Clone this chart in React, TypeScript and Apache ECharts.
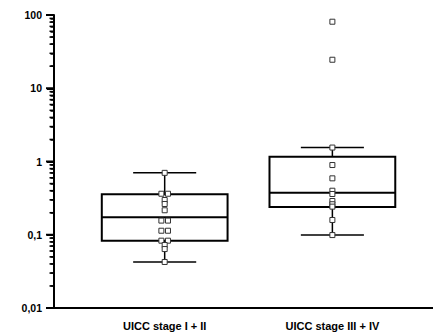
import React, { useEffect, useRef } from "react";
import * as echarts from "echarts";

const categories = ["UICC stage I + II", "UICC stage III + IV"];
const categoryX = [1, 2];

// [min, Q1, median, Q3, max]
const boxStage12 = [0.0425, 0.083, 0.173, 0.356, 0.7];
const boxStage34 = [0.099, 0.239, 0.375, 1.16, 1.55];

const pointsStage12 = [0.7, 0.363, 0.363, 0.298, 0.263, 0.216, 0.156, 0.156, 0.1135, 0.1135, 0.083, 0.083, 0.0724, 0.0638, 0.0425];
const pointsStage34 = [81, 24.5, 1.55, 0.895, 0.589, 0.399, 0.36, 0.289, 0.261, 0.242, 0.159, 0.099];

const yTickLabels = ["0,01", "0,1", "1", "10", "100"];
const majorTickValues = [0.01, 0.1, 1, 10, 100];
const minorTickMultipliers = [2, 3, 4, 5, 6, 7, 8, 9];

const X_MIN = 0.34;
const X_MAX = 2.6;
const BOX_HALF = 0.375;
const CAP_HALF = 0.188;
const PAIR_OFFSET = 3.3;
const FONT = "'Liberation Sans', Arial, sans-serif";

function buildPoints(x: number, values: number[]) {
  const counts: Record<string, number> = {};
  values.forEach((v) => (counts[String(v)] = (counts[String(v)] || 0) + 1));
  const seen: Record<string, number> = {};
  return values.map((v) => {
    const k = String(v);
    const idx = seen[k] || 0;
    seen[k] = idx + 1;
    const off = counts[k] > 1 ? (idx === 0 ? -PAIR_OFFSET : PAIR_OFFSET) : 0;
    return { value: [x, v], symbolOffset: [off, 0] };
  });
}

function tickMarks(values: number[], len: number, width: number) {
  return {
    type: "scatter",
    data: values.map((v) => [X_MIN, v]),
    clip: false,
    silent: true,
    symbol: "rect",
    symbolSize: [len, width],
    symbolOffset: [-len / 2 - 1, 0],
    itemStyle: { color: "#000", opacity: 1 },
    z: 4,
  };
}

export default function App() {
  const ref = useRef<HTMLDivElement>(null);
  useEffect(() => {
    if (!ref.current) return;
    const chart = echarts.init(ref.current, null, { renderer: "svg" });
    const black = "#000";
    const minorValues: number[] = [];
    majorTickValues.slice(0, -1).forEach((d) =>
      minorTickMultipliers.forEach((m) => minorValues.push(+(d * m).toPrecision(3)))
    );
    const option: any = {
      animation: false,
      backgroundColor: "#fff",
      grid: { left: 54, right: 0, top: 15, bottom: 26 },
      xAxis: {
        type: "value",
        min: X_MIN,
        max: X_MAX,
        axisLine: { show: true, onZero: false, lineStyle: { color: black, width: 2 } },
        axisTick: { show: false },
        splitLine: { show: false },
        axisLabel: {
          customValues: categoryX,
          formatter: (v: number) => categories[Math.round(v) - 1] || "",
          color: black,
          fontWeight: "bold",
          fontSize: 11,
          fontFamily: FONT,
          margin: 12,
        },
      },
      yAxis: {
        type: "log",
        logBase: 10,
        min: 0.01,
        max: 100,
        axisLine: { show: true, lineStyle: { color: black, width: 2 } },
        axisTick: { show: true, inside: false, length: 7, lineStyle: { color: black, width: 2 } },
        minorTick: { show: true, splitNumber: 9, length: 3.5, lineStyle: { color: black, width: 1.5 } },
        splitLine: { show: false },
        axisLabel: {
          formatter: (v: number) => {
            const idx = Math.round(Math.log10(v)) + 2;
            return yTickLabels[idx] ?? String(v);
          },
          color: black,
          fontWeight: "bold",
          fontSize: 10.5,
          fontFamily: FONT,
          margin: 12,
        },
      },
      series: [
        {
          type: "custom",
          data: [
            [categoryX[0], ...boxStage12],
            [categoryX[1], ...boxStage34],
          ],
          encode: { x: 0, y: [1, 2, 3, 4, 5] },
          renderItem: (params: any, api: any) => {
            const x = api.value(0);
            const lo = api.value(1);
            const q1 = api.value(2);
            const med = api.value(3);
            const q3 = api.value(4);
            const hi = api.value(5);
            const lt = api.coord([x - BOX_HALF, q3]);
            const rb = api.coord([x + BOX_HALF, q1]);
            const ml = api.coord([x - BOX_HALF, med]);
            const mr = api.coord([x + BOX_HALF, med]);
            const cHi = api.coord([x, hi]);
            const cLo = api.coord([x, lo]);
            const cQ3 = api.coord([x, q3]);
            const cQ1 = api.coord([x, q1]);
            const hiL = api.coord([x - CAP_HALF, hi]);
            const hiR = api.coord([x + CAP_HALF, hi]);
            const loL = api.coord([x - CAP_HALF, lo]);
            const loR = api.coord([x + CAP_HALF, lo]);
            const ls = { stroke: black, lineWidth: 2, fill: "none" };
            const ws = { stroke: black, lineWidth: 1.5 };
            return {
              type: "group",
              children: [
                { type: "line", shape: { x1: cHi[0], y1: cHi[1], x2: cQ3[0], y2: cQ3[1] }, style: ws },
                { type: "line", shape: { x1: cQ1[0], y1: cQ1[1], x2: cLo[0], y2: cLo[1] }, style: ws },
                { type: "line", shape: { x1: hiL[0], y1: hiL[1], x2: hiR[0], y2: hiR[1] }, style: ws },
                { type: "line", shape: { x1: loL[0], y1: loL[1], x2: loR[0], y2: loR[1] }, style: ws },
                {
                  type: "rect",
                  shape: { x: lt[0], y: lt[1], width: rb[0] - lt[0], height: rb[1] - lt[1] },
                  style: ls,
                },
                { type: "line", shape: { x1: ml[0], y1: ml[1], x2: mr[0], y2: mr[1] }, style: ls },
              ],
            };
          },
        },
        {
          type: "scatter",
          data: [...buildPoints(categoryX[0], pointsStage12), ...buildPoints(categoryX[1], pointsStage34)],
          symbol: "rect",
          symbolSize: 5,
          itemStyle: { color: "#fff", borderColor: "#333", borderWidth: 1, opacity: 1 },
          z: 3,
        },
        tickMarks(majorTickValues, 7, 2),
        tickMarks(minorValues, 3.5, 1.5),
      ],
    };
    chart.setOption(option);
    return () => chart.dispose();
  }, []);
  return <div ref={ref} style={{ width: 433, height: 334, position: "absolute", left: 0, top: 0 }} />;
}
